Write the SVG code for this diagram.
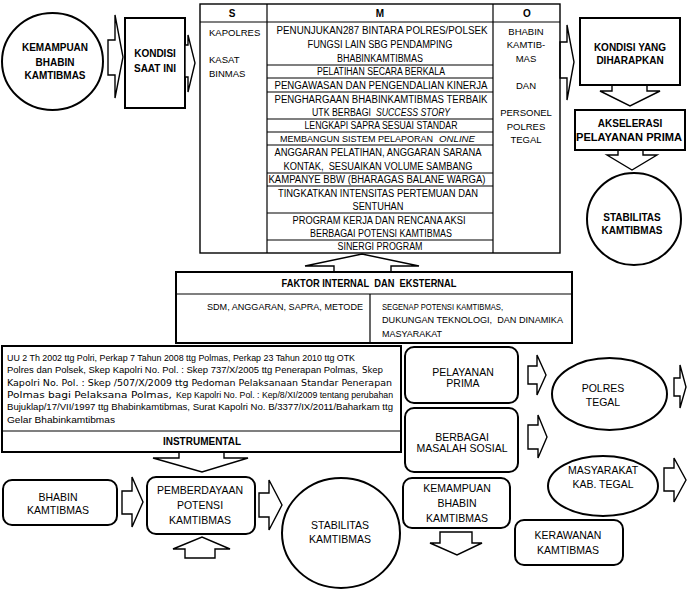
<svg xmlns="http://www.w3.org/2000/svg" width="687" height="590" viewBox="0 0 687 590">
<style>
.n{fill:#fff;stroke:#000;stroke-width:2}
.tb{fill:none;stroke:#000;stroke-width:1.4}
.ln{stroke:#000;stroke-width:1.2}
.a{fill:#fff;stroke:#000;stroke-width:1.4;stroke-linejoin:miter}
text{font-family:"Liberation Sans",Arial,sans-serif;fill:#000}
.t{font-size:10.5px;text-anchor:middle}
.b{font-size:10px;font-weight:bold;text-anchor:middle}
.m{font-size:10px;text-anchor:middle}
.ml{font-size:10px}
.s{font-size:9.5px}
.o{font-size:9.5px;text-anchor:middle}
.u{font-size:9.5px}
.dj{font-family:"DejaVu Sans",sans-serif}
.i{font-style:italic}
</style>
<rect width="687" height="590" fill="#fff"/>

<g id="connectors">
<polygon class="a" points="108,40 115,40 115,15 123,57 115,98 115,75 108,75"/>
<polygon class="a" points="560,42 567,42 567,25 574,62 567,100 567,78 560,78"/>
<polygon class="a" points="612,85 647,85 647,91 660,91 630,106 600,91 612,91"/>
<polygon class="a" points="618,150 643,150 643,155 657,155 632,170 607,155 618,155"/>
<polygon class="a" points="334,272 334,266 305,266 362,254 419,266 391,266 391,272"/>
<polygon class="a" points="179,452 224,452 224,458 248,458 202,472 153,458 179,458"/>
<polygon class="a" points="185,558 185,549 173,549 202,537 230,549 215,549 215,558"/>
<polygon class="a" points="440,532 472,532 472,543 482,543 457,555 430,543 440,543"/>
<polygon class="a" points="122,491 132,491 132,477 143,502 132,527 132,514 122,514"/>
<polygon class="a" points="259,493 269,493 269,480 282,505 269,530 269,517 259,517"/>
<polygon class="a" points="528,366 537,366 537,355 546,375 537,395 537,384 528,384"/>
<polygon class="a" points="528,425 538,425 538,415 547,437 538,458 538,449 528,449"/>
<polygon class="a" points="674,378 680,378 680,365 686,387 680,408 680,396 674,396"/>
<polygon class="a" points="664,468 674,468 674,458 686,480 674,502 674,491 664,491"/>
</g>

<g id="kemampuan-top">
<ellipse class="n" cx="52.5" cy="61.5" rx="50.5" ry="48.5"/>
<text class="b" x="55" y="50.5">KEMAMPUAN</text>
<text class="b" x="55" y="65.5">BHABIN</text>
<text class="b" x="55" y="79">KAMTIBMAS</text>
</g>

<g id="kondisi-saat-ini">
<rect class="n" x="125" y="18" width="60" height="90"/>
<text class="b" x="155" y="56.5">KONDISI</text>
<text class="b" x="155" y="71.5">SAAT INI</text>
</g>
<polygon class="a" points="185,45 188,45 188,35 195,63 188,92 188,77 185,77"/>

<g id="smo-table">
<rect class="tb" x="200" y="4" width="360" height="249"/>
<line class="ln" x1="200" y1="22" x2="560" y2="22"/>
<line class="ln" x1="267" y1="4" x2="267" y2="253"/>
<line class="ln" x1="493" y1="4" x2="493" y2="253"/>
<g class="ln">
<line x1="267" y1="65" x2="493" y2="65"/>
<line x1="267" y1="78" x2="493" y2="78"/>
<line x1="267" y1="92" x2="493" y2="92"/>
<line x1="267" y1="119" x2="493" y2="119"/>
<line x1="267" y1="132" x2="493" y2="132"/>
<line x1="267" y1="145" x2="493" y2="145"/>
<line x1="267" y1="173" x2="493" y2="173"/>
<line x1="267" y1="186" x2="493" y2="186"/>
<line x1="267" y1="213" x2="493" y2="213"/>
<line x1="267" y1="240" x2="493" y2="240"/>
</g>
<text class="b" x="232" y="16.5">S</text>
<text class="b" x="380" y="16.5">M</text>
<text class="b" x="527" y="16.5">O</text>
<text class="s" x="209" y="36">KAPOLRES</text>
<text class="s" x="209" y="63">KASAT</text>
<text class="s" x="209" y="77">BINMAS</text>
<text class="o" x="526" y="34.5">BHABIN</text>
<text class="o" x="526" y="48">KAMTIB-</text>
<text class="o" x="526" y="61.5">MAS</text>
<text class="o" x="526" y="89">DAN</text>
<text class="o" x="526" y="115.5">PERSONEL</text>
<text class="o" x="526" y="129.5">POLRES</text>
<text class="o" x="526" y="142.5">TEGAL</text>
<text class="m" x="382" y="33.5" textLength="211" lengthAdjust="spacingAndGlyphs">PENUNJUKAN287 BINTARA POLRES/POLSEK</text>
<text class="m" x="380" y="47.5" textLength="145" lengthAdjust="spacingAndGlyphs">FUNGSI LAIN SBG PENDAMPING</text>
<text class="m" x="380" y="61.5" textLength="86" lengthAdjust="spacingAndGlyphs">BHABINKAMTIBMAS</text>
<text class="m" x="381" y="75" textLength="128" lengthAdjust="spacingAndGlyphs">PELATIHAN SECARA BERKALA</text>
<text class="m" x="381" y="88.5" textLength="213" lengthAdjust="spacingAndGlyphs">PENGAWASAN DAN PENGENDALIAN KINERJA</text>
<text class="m" x="381" y="102.5" textLength="213" lengthAdjust="spacingAndGlyphs">PENGHARGAAN BHABINKAMTIBMAS TERBAIK</text>
<text class="ml" x="312" y="115.5" textLength="59" lengthAdjust="spacingAndGlyphs">UTK BERBAGI</text>
<text class="ml i" x="376" y="115.5" textLength="74" lengthAdjust="spacingAndGlyphs">SUCCESS STORY</text>
<text class="m" x="381" y="129" textLength="153" lengthAdjust="spacingAndGlyphs">LENGKAPI SAPRA SESUAI STANDAR</text>
<text class="ml" x="280" y="142" textLength="153" lengthAdjust="spacingAndGlyphs" style="font-size:9px">MEMBANGUN SISTEM PELAPORAN</text>
<text class="ml i" x="439" y="142" textLength="36" lengthAdjust="spacingAndGlyphs" style="font-size:9.5px">ONLINE</text>
<text class="m" x="378" y="155.5" textLength="207" lengthAdjust="spacingAndGlyphs">ANGGARAN PELATIHAN, ANGGARAN SARANA</text>
<text class="m" x="378" y="169.5" textLength="189" lengthAdjust="spacingAndGlyphs" style="white-space:pre">KONTAK,  SESUAIKAN VOLUME SAMBANG</text>
<text class="m" x="377" y="183" textLength="217" lengthAdjust="spacingAndGlyphs">KAMPANYE BBW (BHARAGAS BALANE WARGA)</text>
<text class="m" x="378" y="196.5" textLength="200" lengthAdjust="spacingAndGlyphs">TINGKATKAN INTENSITAS PERTEMUAN DAN</text>
<text class="m" x="378" y="209.5" textLength="51" lengthAdjust="spacingAndGlyphs">SENTUHAN</text>
<text class="m" x="379" y="223.5" textLength="173" lengthAdjust="spacingAndGlyphs">PROGRAM KERJA DAN RENCANA AKSI</text>
<text class="m" x="381" y="236.5" textLength="142" lengthAdjust="spacingAndGlyphs">BERBAGAI POTENSI KAMTIBMAS</text>
<text class="m" x="380" y="250" textLength="85" lengthAdjust="spacingAndGlyphs">SINERGI PROGRAM</text>
</g>

<g id="kondisi-diharapkan">
<rect class="n" x="580" y="18" width="100" height="67"/>
<text class="b" x="630" y="50.5">KONDISI YANG</text>
<text class="b" x="630" y="63.5">DIHARAPKAN</text>
</g>

<g id="akselerasi">
<rect class="n" x="575" y="110" width="110" height="40"/>
<text class="b" x="630" y="126.5">AKSELERASI</text>
<text class="b" x="629" y="140.5" textLength="106" lengthAdjust="spacingAndGlyphs">PELAYANAN PRIMA</text>
</g>

<g id="stabilitas-top">
<ellipse class="n" cx="634" cy="219" rx="47" ry="46"/>
<text class="b" x="632" y="220.5">STABILITAS</text>
<text class="b" x="632" y="233.5">KAMTIBMAS</text>
</g>

<g id="faktor">
<rect class="n" x="176" y="272" width="396" height="71"/>
<line class="ln" x1="176" y1="294" x2="572" y2="294"/>
<line class="ln" x1="370" y1="294" x2="370" y2="343"/>
<text class="b" x="369" y="286.5" textLength="175" lengthAdjust="spacingAndGlyphs" style="white-space:pre">FAKTOR INTERNAL  DAN  EKSTERNAL</text>
<text class="u" x="207" y="309.5" textLength="156" lengthAdjust="spacingAndGlyphs">SDM, ANGGARAN, SAPRA, METODE</text>
<text class="u" x="382" y="309.5" textLength="121" lengthAdjust="spacingAndGlyphs">SEGENAP POTENSI KAMTIBMAS,</text>
<text class="u" x="382" y="323" textLength="181" lengthAdjust="spacingAndGlyphs" style="white-space:pre">DUKUNGAN TEKNOLOGI,  DAN DINAMIKA</text>
<text class="u" x="382" y="336.5" textLength="60" lengthAdjust="spacingAndGlyphs">MASYARAKAT</text>
</g>

<g id="instrumental">
<rect class="n" x="2" y="346" width="399" height="106"/>
<line class="ln" x1="2" y1="431" x2="401" y2="431"/>
<text class="u" x="7" y="361" textLength="348" lengthAdjust="spacingAndGlyphs">UU 2 Th 2002 ttg Polri, Perkap 7 Tahun 2008 ttg Polmas, Perkap 23 Tahun 2010 ttg OTK</text>
<text class="u" x="7" y="373.3" textLength="351" lengthAdjust="spacingAndGlyphs">Polres dan Polsek, Skep Kapolri No. Pol. : Skep 737/X/2005 ttg Penerapan Polmas,</text>
<text class="u dj" x="362" y="373.3" textLength="21" lengthAdjust="spacingAndGlyphs">Skep</text>
<text class="u dj" x="7" y="385.6" textLength="385" lengthAdjust="spacingAndGlyphs">Kapolri No. Pol. : Skep /507/X/2009 ttg Pedoman Pelaksanaan Standar Penerapan</text>
<text class="u dj" x="7" y="398" textLength="165" lengthAdjust="spacingAndGlyphs">Polmas bagi Pelaksana Polmas,</text>
<text class="u" x="176" y="398" textLength="217" lengthAdjust="spacingAndGlyphs">Kep Kapolri No. Pol. : Kep/8/XI/2009 tentang perubahan</text>
<text class="u" x="7" y="410.2" textLength="386" lengthAdjust="spacingAndGlyphs">Bujuklap/17/VII/1997 ttg Bhabinkamtibmas, Surat Kapolri No. B/3377/IX/2011/Baharkam ttg</text>
<text class="u" x="7" y="422.5" textLength="108" lengthAdjust="spacingAndGlyphs">Gelar Bhabinkamtibmas</text>
<text class="b" x="202" y="444.5">INSTRUMENTAL</text>
</g>

<g id="pelayanan-prima">
<rect class="n" x="405" y="347" width="113" height="56" rx="9"/>
<text class="t" x="463" y="375.5">PELAYANAN</text>
<text class="t" x="463" y="387">PRIMA</text>
</g>

<g id="masalah-sosial">
<rect class="n" x="405" y="408" width="113" height="64" rx="9"/>
<text class="t" x="462" y="440.5">BERBAGAI</text>
<text class="t" x="462" y="452">MASALAH SOSIAL</text>
</g>

<g id="polres-tegal">
<ellipse class="n" cx="609.5" cy="394" rx="57.5" ry="36"/>
<text class="t" x="603" y="391.5">POLRES</text>
<text class="t" x="603" y="405.5">TEGAL</text>
</g>

<g id="masyarakat">
<ellipse class="n" cx="603" cy="486" rx="55" ry="30"/>
<text class="t" x="603" y="474">MASYARAKAT</text>
<text class="t" x="603" y="488">KAB. TEGAL</text>
</g>

<g id="bhabin-kamtibmas">
<rect class="n" x="3" y="480" width="114" height="45" rx="9"/>
<text class="t" x="58" y="500.5">BHABIN</text>
<text class="t" x="58" y="513.5">KAMTIBMAS</text>
</g>

<g id="pemberdayaan">
<rect class="n" x="147" y="477" width="108" height="57" rx="9"/>
<text class="t" x="200" y="493.5">PEMBERDAYAAN</text>
<text class="t" x="200" y="508.5">POTENSI</text>
<text class="t" x="200" y="523.5">KAMTIBMAS</text>
</g>

<g id="stabilitas-bottom">
<ellipse class="n" cx="341" cy="533" rx="59" ry="55"/>
<text class="t" x="340" y="528.5">STABILITAS</text>
<text class="t" x="340" y="542.5">KAMTIBMAS</text>
</g>

<g id="kemampuan-bottom">
<rect class="n" x="403" y="478" width="107" height="50" rx="9"/>
<text class="t" x="457" y="491.5">KEMAMPUAN</text>
<text class="t" x="457" y="506.5">BHABIN</text>
<text class="t" x="457" y="521.5">KAMTIBMAS</text>
</g>

<g id="kerawanan">
<rect class="n" x="515" y="520" width="108" height="45" rx="9"/>
<text class="t" x="568" y="538.5">KERAWANAN</text>
<text class="t" x="568" y="553.5">KAMTIBMAS</text>
</g>
</svg>
